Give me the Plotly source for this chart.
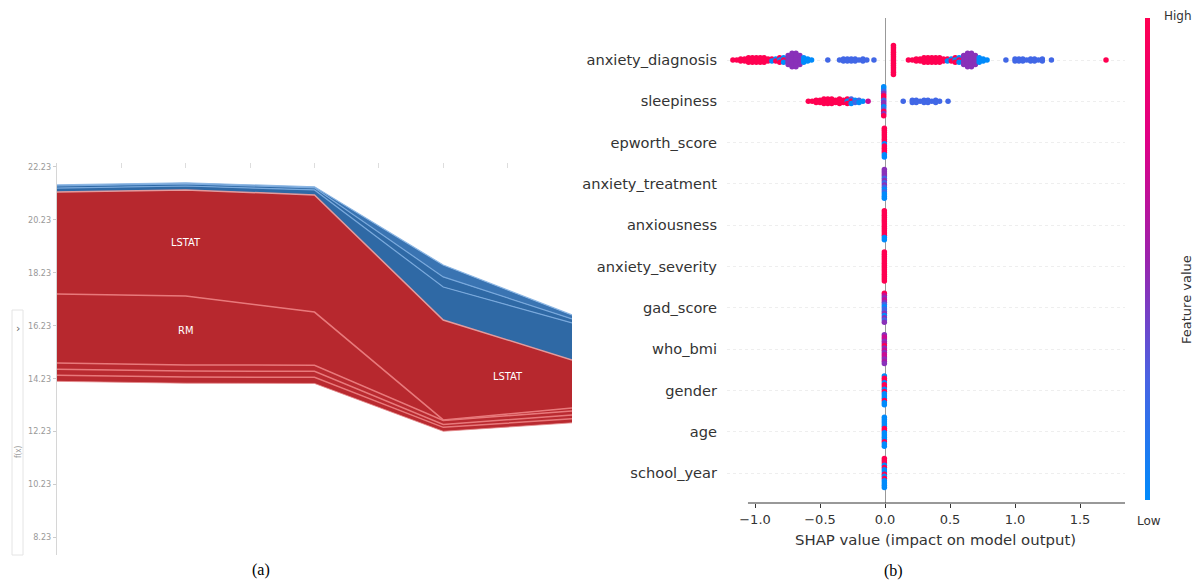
import plotly.graph_objects as go

W, H = 1195, 582


def px_x(p):
    return p / W


def px_y(p):
    return 1 - p / H


# ---------------- (a) clustered force plot ----------------
samples = [0, 1, 2, 3, 4]
model_output = [21.28, 21.36, 21.17, 16.44, 14.93]

# features that raise the prediction (stacked below the output line)
lstat_up = [3.86, 4.01, 4.43, 3.78, 1.82]
rm_up = [2.61, 2.61, 2.01, 0.02, 0.11]
ptratio_up = [0.23, 0.23, 0.23, 0.15, 0.15]
dis_up = [0.23, 0.23, 0.23, 0.11, 0.15]
crim_up = [0.23, 0.23, 0.23, 0.15, 0.15]

# features that lower the prediction (stacked above the output line)
nox_down = [0.15, 0.15, 0.19, 1.25, 1.40]
tax_down = [0.08, 0.08, 0.08, 0.38, 0.15]
age_down = [0.04, 0.04, 0.04, 0.45, 0.15]

force_ticks = [22.23, 20.23, 18.23, 16.23, 14.23, 12.23, 10.23, 8.23]
sample_ticks = [0.5, 1.0, 1.5, 2.0, 2.5, 3.0, 3.5]

# ---------------- (b) SHAP summary (beeswarm) ----------------
feature_names = ["anxiety_diagnosis", "sleepiness", "epworth_score", "anxiety_treatment",
                 "anxiousness", "anxiety_severity", "gad_score", "who_bmi", "gender",
                 "age", "school_year"]

# (shap value, feature values of the samples sharing that value; 0 = low ... 9 = high)
anxiety_diagnosis_pts = [
    (-1.17, "9"), (-1.14, "9"), (-1.11, "99"), (-1.08, "99"), (-1.05, "999"),
    (-1.02, "999"), (-0.99, "999"), (-0.96, "999"), (-0.93, "999"), (-0.90, "99"),
    (-0.87, "90"), (-0.84, "09"), (-0.81, "909"), (-0.78, "090"),
    (-0.745, "44444"), (-0.715, "4444444"), (-0.685, "4444444"), (-0.655, "44444"),
    (-0.625, "000"), (-0.595, "00"), (-0.565, "0"),
    (-0.44, "2"), (-0.35, "2"), (-0.32, "22"), (-0.29, "22"), (-0.26, "22"),
    (-0.23, "22"), (-0.20, "2"), (-0.17, "22"), (-0.14, "2"), (-0.085, "2"),
    (0.065, "99999999999999"),
    (0.18, "9"), (0.21, "9"), (0.24, "99"), (0.27, "99"), (0.30, "999"),
    (0.33, "999"), (0.36, "999"), (0.39, "999"), (0.42, "999"), (0.45, "99"),
    (0.48, "90"), (0.51, "09"), (0.54, "909"), (0.57, "090"),
    (0.605, "44444"), (0.635, "4444444"), (0.665, "4444444"), (0.695, "44444"),
    (0.725, "000"), (0.755, "00"), (0.785, "0"),
    (0.93, "2"), (1.00, "22"), (1.03, "22"), (1.06, "22"), (1.09, "2"),
    (1.12, "22"), (1.15, "22"), (1.18, "2"), (1.21, "22"), (1.28, "2"),
    (1.70, "9"),
]
sleepiness_pts = [
    (-0.59, "9"), (-0.56, "9"), (-0.53, "99"), (-0.50, "99"), (-0.47, "999"),
    (-0.44, "999"), (-0.41, "999"), (-0.38, "99"), (-0.35, "999"), (-0.32, "99"),
    (-0.29, "909"), (-0.26, "290"), (-0.23, "02"), (-0.20, "20"), (-0.17, "0"),
    (-0.13, "6"),
    (-0.01, "00249924402949"),
    (0.14, "2"), (0.21, "22"), (0.24, "22"), (0.27, "2"), (0.30, "22"),
    (0.33, "22"), (0.36, "2"), (0.39, "22"), (0.42, "2"), (0.485, "2"),
]
epworth_score_pts = [(-0.005, "99999990999900")]
anxiety_treatment_pts = [(-0.005, "44442424202000")]
anxiousness_pts = [(-0.005, "99999999999900")]
anxiety_severity_pts = [(-0.005, "99999999999999")]
gad_score_pts = [(-0.005, "96464202240424")]
who_bmi_pts = [(-0.005, "46645946466454")]
gender_pts = [(-0.005, "09909909000900")]
age_pts = [(-0.005, "00000990000900")]
school_year_pts = [(-0.005, "99909009090000")]

summary_rows = [anxiety_diagnosis_pts, sleepiness_pts, epworth_score_pts,
                anxiety_treatment_pts, anxiousness_pts, anxiety_severity_pts,
                gad_score_pts, who_bmi_pts, gender_pts, age_pts, school_year_pts]

shap_ticks = [-1.0, -0.5, 0.0, 0.5, 1.0, 1.5]
shap_axis_span = [-1.054, 1.846]   # extent of the drawn bottom spine

# shap's red_blue feature-value colormap
red_blue = [[0.0, "#008bfb"], [0.25, "#4963e3"], [0.5, "#9b23ad"],
            [0.75, "#e00086"], [1.0, "#ff0051"]]


def swarm_layout(rows, spread=0.70):
    """Stack samples that share a SHAP value vertically around each feature row."""
    xs, ys, cs = [], [], []
    for r, pts in enumerate(rows):
        tallest = max(len(lv) for _, lv in pts)
        step = spread / max(tallest - 1, 1)
        for x, lv in pts:
            n = len(lv)
            for k, ch in enumerate(lv):
                xs.append(x)
                ys.append(r - ((n - 1) / 2 - k) * step)
                cs.append(int(ch) / 9)
    return xs, ys, cs


fig = go.Figure()

# ---- force plot areas ----
red_layers = [  # bottom to top
    ("CRIM", crim_up, "#b92a30", "#e8797b"),
    ("DIS", dis_up, "#b92a30", "#e8797b"),
    ("PTRATIO", ptratio_up, "#b92a30", "#e8797b"),
    ("RM", rm_up, "#b7282e", "#e8797b"),
    ("LSTAT", lstat_up, "#b7282e", "#e39a9c"),
]
blue_layers = [  # output line upward
    ("NOX", nox_down, "#2f69a5", "#78a8dc"),
    ("TAX", tax_down, "#2f69a5", "#78a8dc"),
    ("AGE", age_down, "#3a74b2", "#8db7e4"),
]

total_up = [sum(v[i] for _, v, _, _ in red_layers) for i in range(len(samples))]
base = [model_output[i] - total_up[i] for i in range(len(samples))]
fig.add_trace(go.Scatter(x=samples, y=base, mode="lines",
                         line=dict(color="#e58a8c", width=0.8),
                         xaxis="x", yaxis="y", hoverinfo="skip", showlegend=False))
cum = list(base)
for name, vals, fill, edge in red_layers:
    cum = [cum[i] + vals[i] for i in range(len(samples))]
    fig.add_trace(go.Scatter(x=samples, y=cum, mode="lines", fill="tonexty",
                             fillcolor=fill, line=dict(color=edge, width=1.5),
                             name=name, xaxis="x", yaxis="y", showlegend=False))
cum = list(model_output)
for name, vals, fill, edge in blue_layers:
    cum = [cum[i] + vals[i] for i in range(len(samples))]
    fig.add_trace(go.Scatter(x=samples, y=cum, mode="lines", fill="tonexty",
                             fillcolor=fill, line=dict(color=edge, width=1.2),
                             name=name, xaxis="x", yaxis="y", showlegend=False))

# ---- beeswarm ----
sx, sy, sc = swarm_layout(summary_rows)
fig.add_trace(go.Scatter(
    x=sx, y=sy, mode="markers", xaxis="x2", yaxis="y2",
    showlegend=False, hoverinfo="x",
    marker=dict(size=5.5, color=sc, colorscale=red_blue, cmin=0, cmax=1,
                line=dict(width=0), showscale=True,
                colorbar=dict(thickness=5, len=482, lenmode="pixels",
                              x=px_x(1145), xanchor="left", xpad=0,
                              y=px_y(259), yanchor="middle", ypad=0,
                              outlinewidth=0, showticklabels=False, ticks=""))))

narrow = "Liberation Sans Narrow, DejaVu Sans Condensed, Arial Narrow, sans-serif"
dv = "DejaVu Sans, Verdana, sans-serif"
serif = "Liberation Serif, Times New Roman, serif"


def note(x, y, text, size, color, family, angle=0, xanchor="center"):
    return dict(x=px_x(x), y=px_y(y), xref="paper", yref="paper", text=text,
                xanchor=xanchor, yanchor="middle", textangle=angle, showarrow=False,
                font=dict(family=family, size=size, color=color))


annotations = []
# band labels inside the force plot
lstat_mid_1 = model_output[1] - lstat_up[1] / 2
rm_mid_1 = model_output[1] - lstat_up[1] - rm_up[1] / 2
lstat_mid_35 = ((model_output[3] - lstat_up[3] / 2) + (model_output[4] - lstat_up[4] / 2)) / 2
for xv, yv, t in [(1, lstat_mid_1, "LSTAT"), (1, rm_mid_1, "RM"), (3.5, lstat_mid_35, "LSTAT")]:
    annotations.append(dict(x=xv, y=yv, xref="x", yref="y", text=t, showarrow=False,
                            xanchor="center", yanchor="middle",
                            font=dict(family=narrow, size=11, color="white")))

# collapsed y-axis selector of the force plot
annotations.append(note(18, 328, "›", 11, "#666", dv))
annotations.append(note(18, 452, "f(x)", 8, "#999", narrow, angle=-90))

# x-axis caption of the summary plot, centred under the drawn spine
annotations.append(note(935, 540, "SHAP value (impact on model output)", 14.9, "#333", dv))

# colorbar captions
annotations.append(note(1162, 16, "High", 12, "#333", dv, xanchor="left"))
annotations.append(note(1149, 521, "Low", 12, "#333", dv))
annotations.append(note(1187, 300, "Feature value", 13, "#333", dv, angle=-90))

# panel captions
annotations.append(note(261, 570, "(a)", 16, "black", serif))
annotations.append(note(893, 571, "(b)", 16, "black", serif))

shapes = [
    dict(type="rect", xref="paper", yref="paper",
         x0=px_x(12), x1=px_x(23), y0=px_y(555), y1=px_y(310),
         line=dict(color="#e4e4e4", width=1)),
    # bottom spine of the summary plot
    dict(type="line", xref="x2", yref="y2 domain",
         x0=shap_axis_span[0], x1=shap_axis_span[1], y0=0, y1=0,
         line=dict(color="#333333", width=1)),
]

fig.update_layout(
    width=W, height=H, margin=dict(l=0, r=0, t=0, b=0, pad=0, autoexpand=False),
    paper_bgcolor="white", plot_bgcolor="white", showlegend=False,
    annotations=annotations, shapes=shapes,
    xaxis=dict(domain=[px_x(57), px_x(572)], range=[0, 4], side="top", anchor="y",
               automargin=False,
               showline=False, showgrid=False, zeroline=False,
               tickvals=sample_ticks, ticks="inside", ticklen=5, tickcolor="#dddddd",
               showticklabels=False),
    yaxis=dict(domain=[px_y(555), px_y(163)], range=[7.55, 22.38], anchor="x",
               automargin=False,
               showline=True, linecolor="#d6d6d6", linewidth=1,
               showgrid=False, zeroline=False,
               tickvals=force_ticks, ticktext=[f"{v:.2f}" for v in force_ticks],
               ticks="outside", ticklen=3, tickcolor="#cccccc",
               tickfont=dict(family=narrow, size=9, color="#999999")),
    xaxis2=dict(domain=[px_x(727), px_x(1125)], range=[-1.2154, 1.846], anchor="y2",
                automargin=False,
                showline=False,
                showgrid=False, zeroline=True, zerolinecolor="#999999", zerolinewidth=1,
                tickvals=shap_ticks,
                ticktext=[f"{v:.1f}".replace("-", "\u2212") for v in shap_ticks],
                ticks="outside", ticklen=4, tickcolor="#333333",
                tickfont=dict(family=dv, size=13, color="#333333")),
    yaxis2=dict(domain=[px_y(503), px_y(18)], range=[10.726, -1.017], anchor="x2",
                automargin=False,
                showline=False, zeroline=False,
                showgrid=True, gridcolor="#eeeeee", gridwidth=0.5, griddash="dot",
                tickvals=list(range(len(feature_names))), ticktext=feature_names,
                ticks="", ticklabelstandoff=9,
                tickfont=dict(family=dv, size=14.6, color="#333333")),
)

fig.write_html("out.html")
